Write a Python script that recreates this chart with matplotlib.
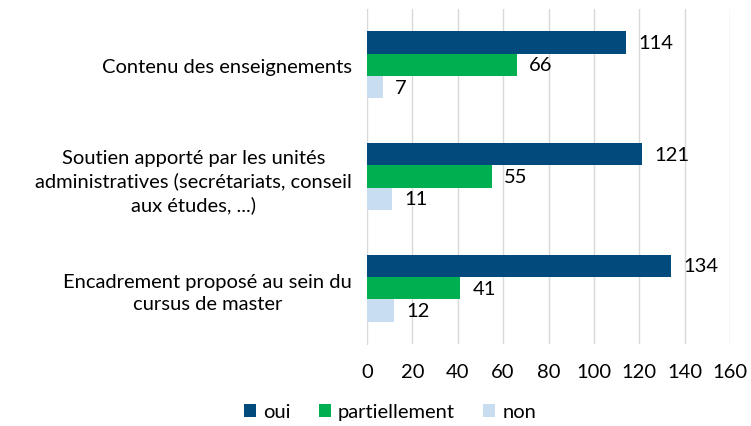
import matplotlib
matplotlib.use("Agg")
import matplotlib.pyplot as plt
import numpy as np

categories = ["Contenu des enseignements",
              "Soutien apporté par les unités\nadministratives (secrétariats, conseil\naux études, ...)",
              "Encadrement proposé au sein du\ncursus de master"]
series_names = ["oui", "partiellement", "non"]
oui = [114, 121, 134]
partiellement = [66, 55, 41]
non = [7, 11, 12]
colors = ["#004B7C", "#00B050", "#C9DDF1"]
xticks = [0, 20, 40, 60, 80, 100, 120, 140, 160]

plt.rcParams['font.family'] = ['Lato', 'DejaVu Sans']
fs = 14.5
fig = plt.figure(figsize=(7.51, 4.27), dpi=100)
ax = fig.add_axes([367/751, 1-345/427, (730-367)/751, (345-10)/427])

y = np.arange(len(categories))
h = 0.2
vals = [oui, partiellement, non]
for i, (name, v, c) in enumerate(zip(series_names, vals, colors)):
    pos = y + (i - 1) * h
    bars = ax.barh(pos, v, height=h, color=c, label=name, zorder=3)
    for b, val in zip(bars, v):
        ax.text(b.get_width() + 5.5, b.get_y() + b.get_height()/2, str(val),
                va='center', ha='left', fontsize=fs, color='#000000')

ax.set_ylim(2.5, -0.5)
ax.set_xlim(0, 160)
ax.set_xticks(xticks)
ax.set_xticklabels([str(t) for t in xticks], fontsize=fs)
ax.set_yticks(y)
ax.set_yticklabels(categories, fontsize=fs, ha='right', multialignment='center',
                   linespacing=1.4)
ax.tick_params(axis='y', length=0, pad=11)
ax.tick_params(axis='x', length=0, pad=14)
ax.grid(axis='x', color='#D9D9D9', linewidth=1, zorder=0)
for s in ['top', 'right', 'bottom']:
    ax.spines[s].set_visible(False)
ax.spines['left'].set_color('#D9D9D9')

leg = fig.legend(loc='center', bbox_to_anchor=(390/751, 1-413/427), ncol=3, frameon=False,
                 fontsize=fs, handlelength=0.6, handleheight=0.6, handletextpad=0.35,
                 columnspacing=1.4)
fig.savefig("out.png", dpi=100)
